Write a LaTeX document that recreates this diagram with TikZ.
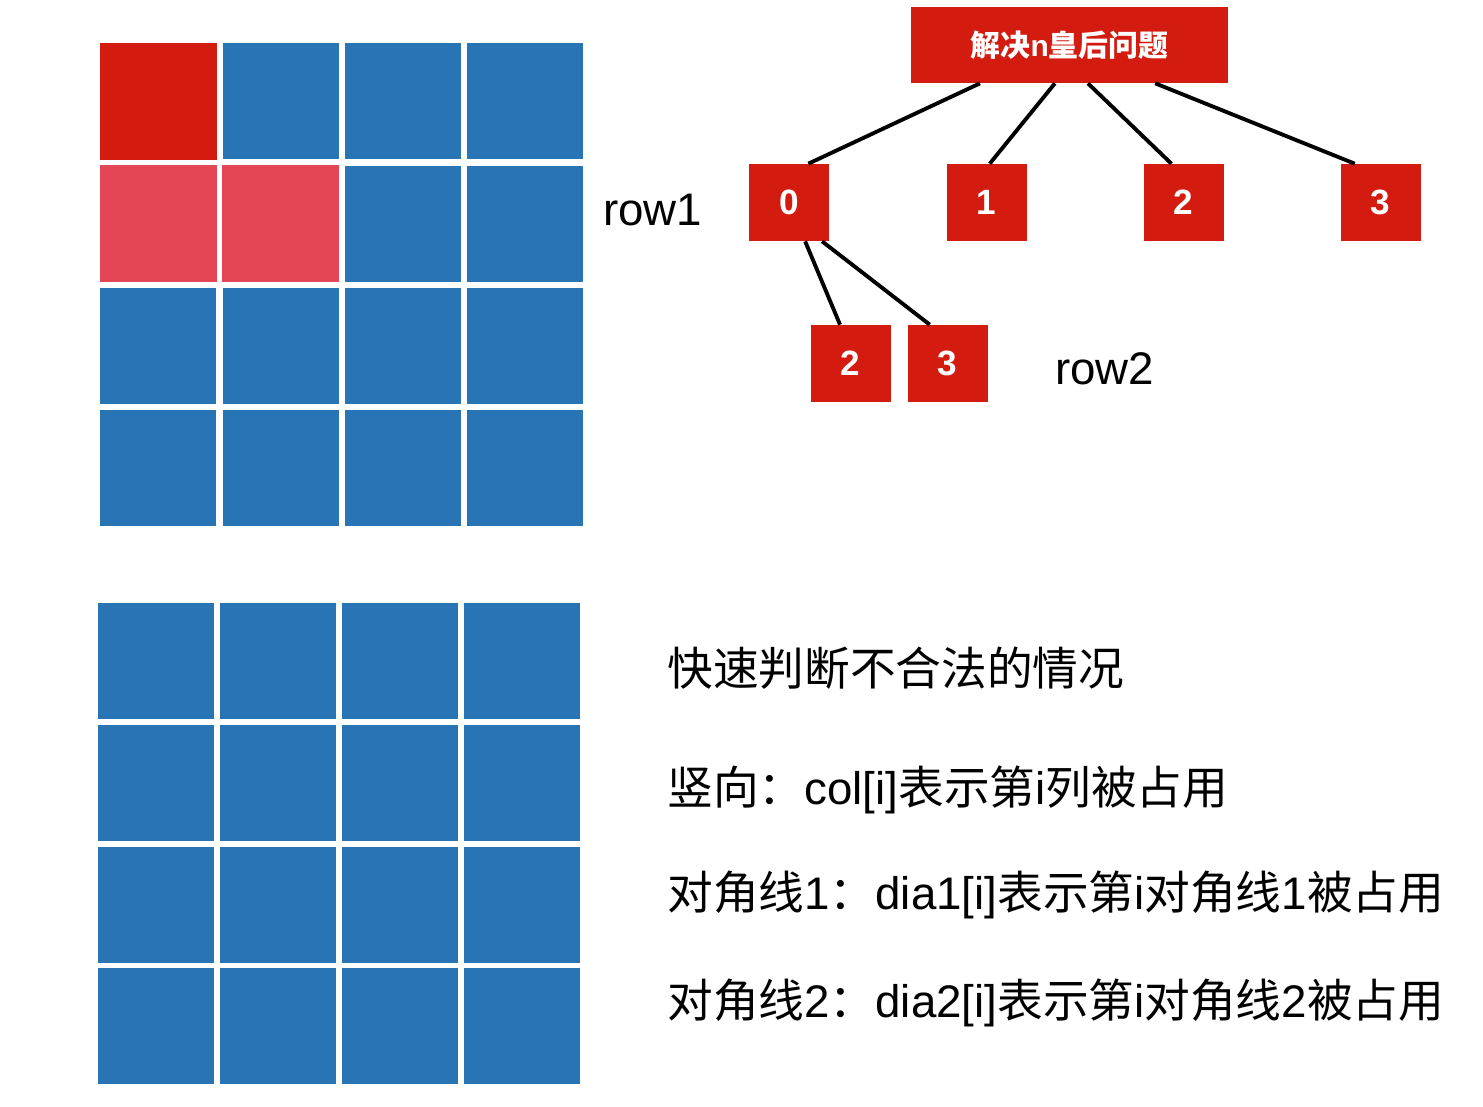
\documentclass[tikz,border=0pt]{standalone}
\usepackage{fontspec}
\setmainfont{Liberation Sans}
\newfontfamily\cjk{Noto Sans CJK SC}
\usetikzlibrary{calc}

\definecolor{cellblue}{RGB}{40,116,180}
\definecolor{qred}{RGB}{212,27,16}
\definecolor{qpink}{RGB}{229,70,85}

\begin{document}
\begin{tikzpicture}[
  x=0.02cm, y=-0.02cm,
  cell/.style={fill=cellblue, minimum width=2.32cm, minimum height=2.32cm, inner sep=0pt, anchor=north west},
  queen/.style={fill=qred, text=white, font=\fontsize{20}{24}\selectfont\bfseries, minimum width=1.6cm, minimum height=1.54cm, inner sep=0pt},
  link/.style={line width=2.2pt},
  note/.style={anchor=west, inner sep=0pt, font=\fontsize{26}{30}\selectfont},
]
  \useasboundingbox (0,0) rectangle (1483,1106);

  \foreach \r in {0,...,3}
    \foreach \c in {0,...,3} {
      \node[cell] (a\r\c) at (100+122.3*\c, 43+122.3*\r) {};
      \node[cell] (b\r\c) at (98+122*\c, 603+121.7*\r) {};
    }
  \fill[qred]  (a00.north west) rectangle (a00.south east);
  \fill[qpink] (a10.north west) rectangle (a10.south east);
  \fill[qpink] (a11.north west) rectangle (a11.south east);

  \node[note] (row1) at (603,210) {row1};
  \node[note] (row2) at (1055,369) {row2};

  \node[queen, minimum width=6.34cm, minimum height=1.52cm, font=\fontsize{17}{20}\selectfont\bfseries] (root) at (1069.5,45) {{\cjk 解决}n{\cjk 皇后问题}};
  \node[queen] (q0) at (789,202.5)    {0};
  \node[queen] (q1) at (986.5,202.5)  {1};
  \node[queen] (q2) at (1183.5,202.5) {2};
  \node[queen] (q3) at (1380.5,202.5) {3};
  \node[queen] (s2) at (850.5,363.5)  {2};
  \node[queen] (s3) at (947.5,363.5)  {3};

  \draw[link] ($(root.south west)!0.218!(root.south east)$) -- ($(q0.north west)!0.74!(q0.north east)$);
  \draw[link] ($(root.south west)!0.454!(root.south east)$) -- ($(q1.north west)!0.54!(q1.north east)$);
  \draw[link] ($(root.south west)!0.558!(root.south east)$) -- ($(q2.north west)!0.35!(q2.north east)$);
  \draw[link] ($(root.south west)!0.77!(root.south east)$)  -- ($(q3.north west)!0.18!(q3.north east)$);
  \draw[link] ($(q0.south west)!0.7!(q0.south east)$)  -- ($(s2.north west)!0.37!(s2.north east)$);
  \draw[link] ($(q0.south west)!0.91!(q0.south east)$) -- ($(s3.north west)!0.28!(s3.north east)$);

  \node[note] (title)    at (667,668)  {\cjk 快速判断不合法的情况};
  \node[note] (colrule)  at (667,790)  {{\cjk 竖向：}col[i]{\cjk 表示第}i{\cjk 列被占用}};
  \node[note] (diarule1) at (667,895)  {{\cjk 对角线}1{\cjk ：}dia1[i]{\cjk 表示第}i{\cjk 对角线}1{\cjk 被占用}};
  \node[note] (diarule2) at (667,1003) {{\cjk 对角线}2{\cjk ：}dia2[i]{\cjk 表示第}i{\cjk 对角线}2{\cjk 被占用}};
\end{tikzpicture}
\end{document}
